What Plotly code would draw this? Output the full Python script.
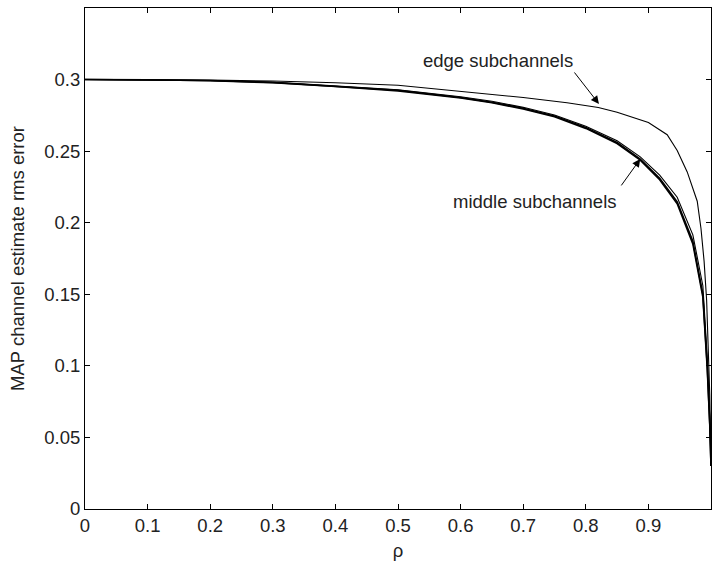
import plotly.graph_objects as go

rho_edge = [0.0, 0.1, 0.2, 0.3, 0.4, 0.5, 0.6, 0.7, 0.77, 0.82, 0.85, 0.9, 0.93, 0.946, 0.962, 0.978, 0.984, 0.989, 0.993, 0.996, 0.998, 1.0]
edge = [0.300, 0.2999, 0.2996, 0.299, 0.2978, 0.296, 0.292, 0.2875, 0.2838, 0.2805, 0.2772, 0.2700, 0.2615, 0.2505, 0.2355, 0.215, 0.196, 0.173, 0.146, 0.112, 0.080, 0.030]

rho_mid = [0.0, 0.1, 0.2, 0.3, 0.4, 0.5, 0.6, 0.65, 0.7, 0.75, 0.8, 0.85, 0.887, 0.918, 0.946, 0.971, 0.987, 0.994, 0.998, 1.0]
mid1 = [0.300, 0.2999, 0.2993, 0.2980, 0.2955, 0.2925, 0.2875, 0.2842, 0.2800, 0.2745, 0.2665, 0.2560, 0.2445, 0.2310, 0.2146, 0.1870, 0.1500, 0.1000, 0.0600, 0.030]
mid2 = [0.300, 0.2999, 0.2992, 0.2978, 0.2952, 0.2921, 0.2871, 0.2838, 0.2795, 0.2740, 0.2659, 0.2553, 0.2437, 0.2300, 0.2133, 0.1852, 0.1480, 0.0980, 0.0590, 0.030]
mid3 = [0.300, 0.2999, 0.2994, 0.2982, 0.2958, 0.2929, 0.2880, 0.2848, 0.2806, 0.2752, 0.2674, 0.2572, 0.2460, 0.2332, 0.2178, 0.1915, 0.1560, 0.1060, 0.0650, 0.030]

xticks = [0, 0.1, 0.2, 0.3, 0.4, 0.5, 0.6, 0.7, 0.8, 0.9, 1]
xticklabels = ["0", "0.1", "0.2", "0.3", "0.4", "0.5", "0.6", "0.7", "0.8", "0.9", "1"]
yticks = [0, 0.05, 0.1, 0.15, 0.2, 0.25, 0.3, 0.35]
yticklabels = ["0", "0.05", "0.1", "0.15", "0.2", "0.25", "0.3", ""]

fig = go.Figure()
fig.add_trace(go.Scatter(x=rho_edge, y=edge, mode="lines", line=dict(color="black", width=1.1), showlegend=False))
for m, w in [(mid3, 1.1), (mid1, 1.6), (mid2, 1.6)]:
    fig.add_trace(go.Scatter(x=rho_mid, y=m, mode="lines", line=dict(color="black", width=w), showlegend=False))

font = dict(family="Liberation Sans, Arial, sans-serif", size=18.5, color="#222")

fig.add_annotation(x=0.66, y=0.313, text="edge subchannels", showarrow=False, font=font, xref="x", yref="y")
fig.add_annotation(x=0.821, y=0.283, ax=0.78, ay=0.306, axref="x", ayref="y", xref="x", yref="y",
                   text="", showarrow=True, arrowhead=2, arrowsize=1.6, arrowwidth=1, arrowcolor="black", standoff=0)
fig.add_annotation(x=0.719, y=0.215, text="middle subchannels", showarrow=False, font=font, xref="x", yref="y")
fig.add_annotation(x=0.887, y=0.2445, ax=0.855, ay=0.225, axref="x", ayref="y", xref="x", yref="y",
                   text="", showarrow=True, arrowhead=2, arrowsize=1.6, arrowwidth=1, arrowcolor="black", standoff=0)

axis_common = dict(showgrid=False, zeroline=False, showline=True, linecolor="black", linewidth=1,
                   mirror="ticks", ticks="inside", ticklen=5, tickcolor="black", tickfont=font)
fig.update_xaxes(range=[0, 1], tickvals=xticks, ticktext=xticklabels, title=dict(text="ρ", font=font, standoff=8), **axis_common)
fig.update_yaxes(range=[0, 0.35], tickvals=yticks, ticktext=yticklabels, title=dict(text="MAP channel estimate rms error", font=font, standoff=14), **axis_common)

fig.update_layout(width=713, height=572, margin=dict(l=85, r=2, t=8, b=63),
                  paper_bgcolor="white", plot_bgcolor="white", font=font)
fig.write_html("out.html")
